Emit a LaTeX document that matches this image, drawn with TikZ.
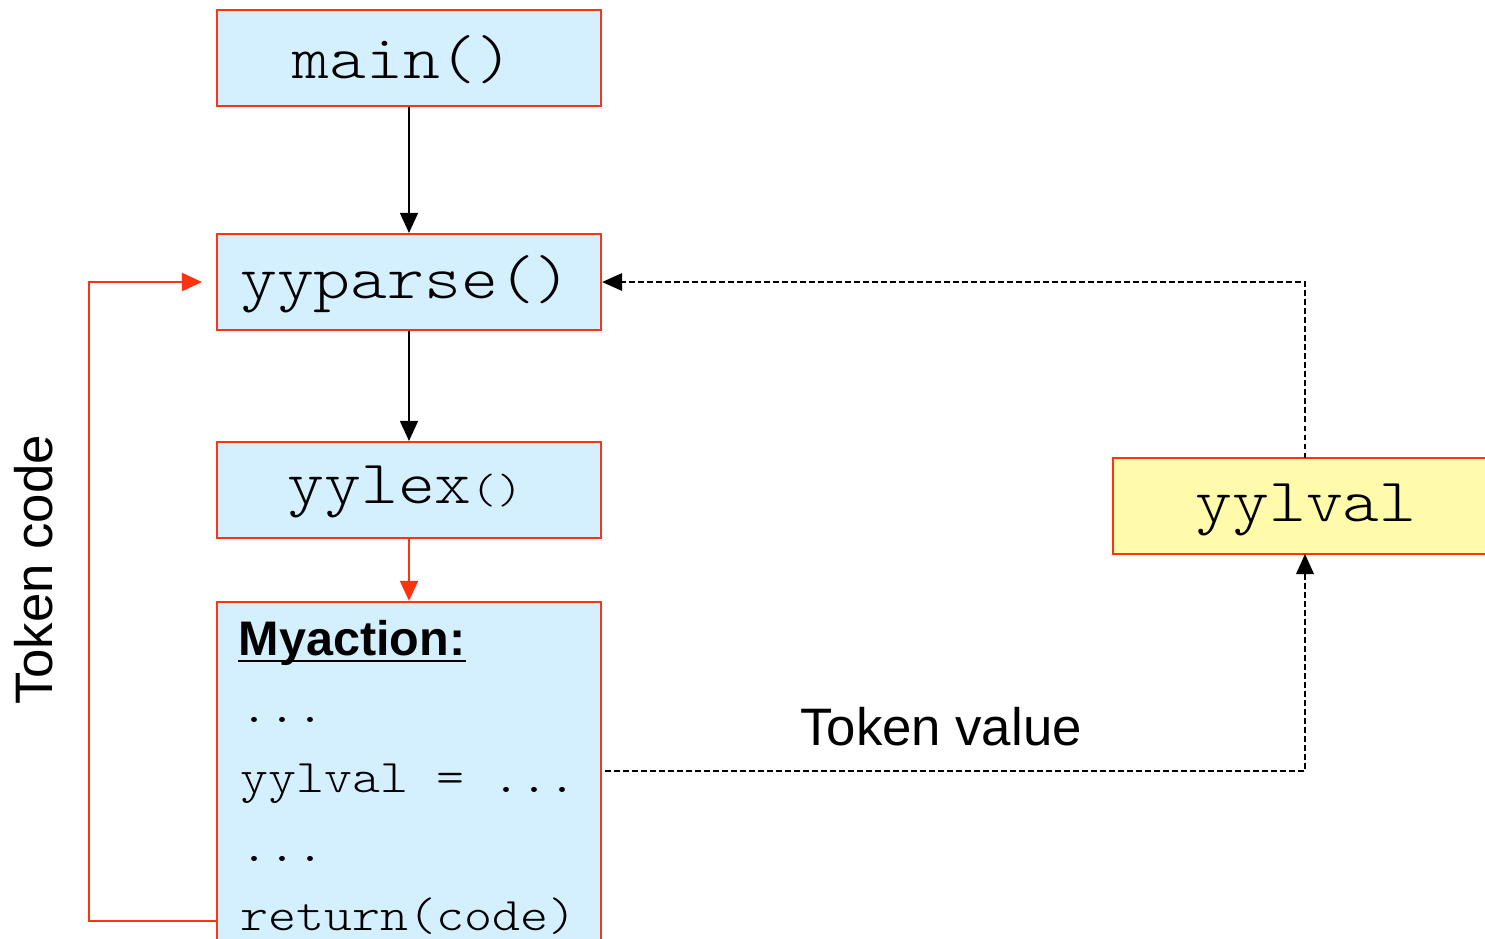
\documentclass[tikz,border=0pt]{standalone}
\usepackage{fontspec}
\setmainfont{Liberation Sans}
\newfontfamily\cour[FakeStretch=1.14]{lmmonolt10-regular.otf}
\usetikzlibrary{arrows.meta}
\definecolor{boxred}{HTML}{FF3311}
\definecolor{boxblue}{HTML}{D4F0FF}
\definecolor{boxyellow}{HTML}{FFFBAA}
\begin{document}
\begin{tikzpicture}[x=0.01cm,y=-0.01cm,
  fbox/.style={draw=boxred,line width=0.6pt,fill=boxblue,minimum width=3.84cm,minimum height=0.96cm,inner sep=0pt},
  bigmono/.style={font=\cour\fontsize{17.5}{20}\selectfont},
  smallmono/.style={font=\cour\fontsize{13.3}{16}\selectfont},
  blk/.style={line width=0.45pt,-{Triangle[length=0.2cm,width=0.18cm]}},
  redarr/.style={draw=boxred,line width=0.6pt,-{Triangle[length=0.2cm,width=0.18cm]},boxred},
  dsh/.style={line width=0.35pt,dash pattern=on 0.055cm off 0.035cm,-{Triangle[length=0.2cm,width=0.18cm,line width=0pt]}},
  lbl/.style={font=\fontsize{15}{18}\selectfont}
]
\path[use as bounding box] (0,0) rectangle (1485,938);
\clip (0,0) rectangle (1485,938);
% boxes
\node[fbox] (main) at (409,58) {};
\node[bigmono] (maintext) at (403,60) {main()};
\node[fbox] (yyparse) at (409,282) {};
\node[bigmono] (yyparsetext) at (406,284) {yyparse()};
\node[fbox] (yylex) at (409,490) {};
\node[bigmono] (yylextext) at (405,492) {yylex{\fontsize{12}{14}\selectfont()}};
\node[fbox,minimum height=3.98cm] (act) at (409,801) {};
\node[draw=boxred,line width=0.6pt,fill=boxyellow,minimum width=4.2cm,minimum height=0.96cm,inner sep=0pt] (yylvalbox) at (1323,506) {};
\node[bigmono,anchor=center] (yylvaltext) at (1306,510) {yylval};
% action text lines
\node[anchor=base west,inner sep=0pt,font=\bfseries\fontsize{13.8}{17}\selectfont] (t1) at (238,655) {Myaction:};
\draw[line width=0.75pt] ([yshift=-0.06cm]t1.base west) -- ([yshift=-0.06cm]t1.base east);
\node[anchor=base west,inner sep=0pt,smallmono] (t2) at (240,722) {...};
\node[anchor=base west,inner sep=0pt,smallmono] (t3) at (240,792) {yylval = ...};
\node[anchor=base west,inner sep=0pt,smallmono] (t4) at (240,861) {...};
\node[anchor=base west,inner sep=0pt,smallmono] (t5) at (240,930) {return(code)};
% labels
\node[lbl,anchor=base] (tv) at (941,745) {Token value};
\node[lbl,rotate=90,anchor=base] (tc) at (52,570) {Token code};
% connectors
\draw[blk] (main.south) -- (yyparse.north);
\draw[blk] (yyparse.south) -- (yylex.north);
\draw[redarr] (yylex.south) -- (act.north);
\coordinate (loopstart) at (217,921);
\coordinate (loopend) at (202,282);
\draw[redarr] (loopstart) -- (89,921) -- (89,282) -- (loopend);
\coordinate (tvstart) at (605,771);
\draw[dsh] (tvstart) -- (1305,771) -- (1305,554);
\coordinate (yytop) at (1305,458);
\draw[dsh] (yytop) -- (1305,282) -- (yyparse.east);
\end{tikzpicture}
\end{document}
